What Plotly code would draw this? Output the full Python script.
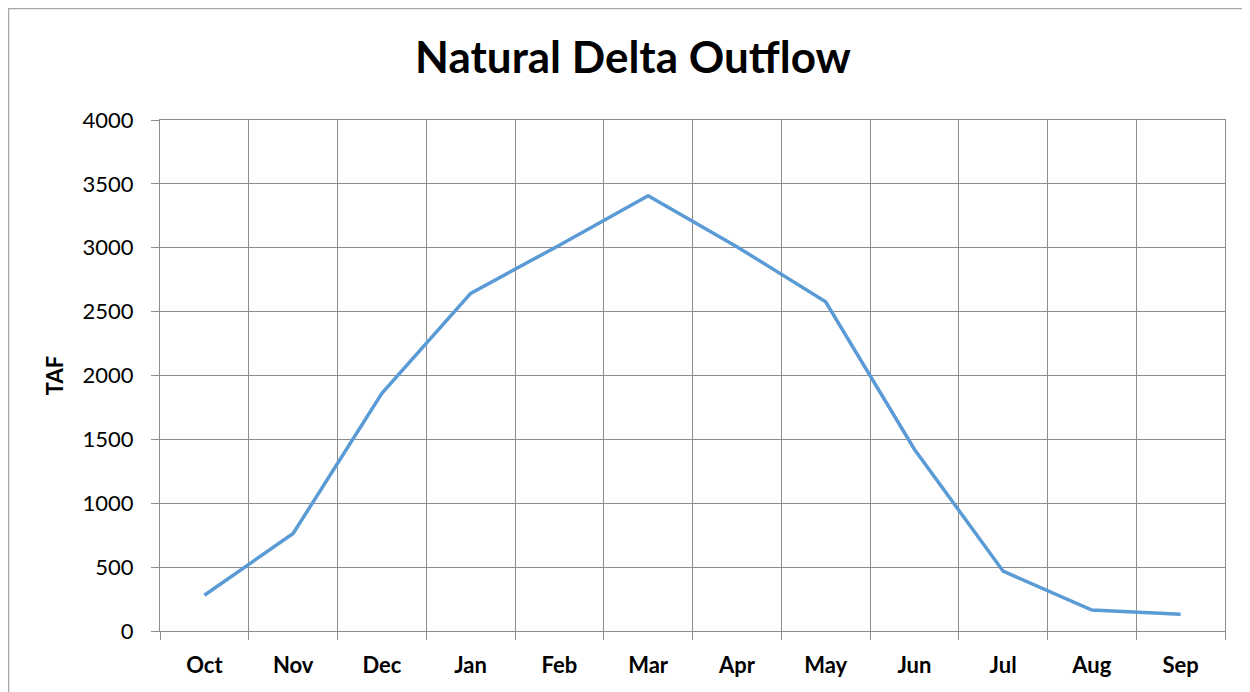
import plotly.graph_objects as go

months = ["Oct", "Nov", "Dec", "Jan", "Feb", "Mar", "Apr", "May", "Jun", "Jul", "Aug", "Sep"]
taf = [280, 763, 1860, 2643, 3020, 3407, 3008, 2577, 1423, 468, 164, 131]
y_ticks = [0, 500, 1000, 1500, 2000, 2500, 3000, 3500, 4000]

FONT = "Lato"
GRID = "#8c8c8c"

L, R, T, B = 152, 33, 112, 69
W, H = 1250, 692
PW, PH = W - L - R, H - T - B

fig = go.Figure()
fig.add_trace(go.Scatter(
    x=months, y=taf, mode="lines",
    line=dict(color="#5B9BD5", width=3.5),
    showlegend=False, hoverinfo="x+y",
))

fig.update_layout(
    width=W, height=H,
    margin=dict(l=L, r=R, t=T, b=B),
    paper_bgcolor="white", plot_bgcolor="white",
    title=dict(text="<b>Natural Delta Outflow</b>", x=0.5, xref="container", xanchor="center",
               y=1 - 50 / H, yanchor="middle",
               font=dict(family=FONT, size=44, color="black")),
    font=dict(family=FONT, color="black"),
    xaxis=dict(
        type="category", categoryorder="array", categoryarray=months,
        range=[-0.5, 11.5], tickson="boundaries",
        showgrid=True, gridcolor=GRID, gridwidth=1,
        ticks="outside", ticklen=8, tickcolor=GRID, tickwidth=1,
        showline=True, linecolor=GRID, linewidth=1, mirror=True,
        tickfont=dict(family=FONT, size=22, color="black", weight="bold"),
        ticklabelstandoff=15,
        zeroline=False,
    ),
    yaxis=dict(
        range=[0, 4000], tickvals=y_ticks, ticktext=[str(v) for v in y_ticks],
        showgrid=True, gridcolor=GRID, gridwidth=1,
        ticks="outside", ticklen=8, tickcolor=GRID, tickwidth=1,
        showline=True, linecolor=GRID, linewidth=1, mirror=True,
        tickfont=dict(family=FONT, size=22, color="black"),
        ticklabelstandoff=13,
        zeroline=False,
        title=dict(text="<b>TAF</b>", font=dict(family=FONT, size=22, color="black"), standoff=12),
    ),
)

# outer chart-area border (Excel style)
fig.add_shape(type="rect", xref="paper", yref="paper",
              x0=(0.5 - L) / PW, x1=(W + 20 - L) / PW,
              y0=-(B + 20) / PH, y1=(PH + T - 0.5) / PH,
              line=dict(color="#a6a6a6", width=1.5), fillcolor="rgba(0,0,0,0)", layer="below")

fig.write_html("out.html")
